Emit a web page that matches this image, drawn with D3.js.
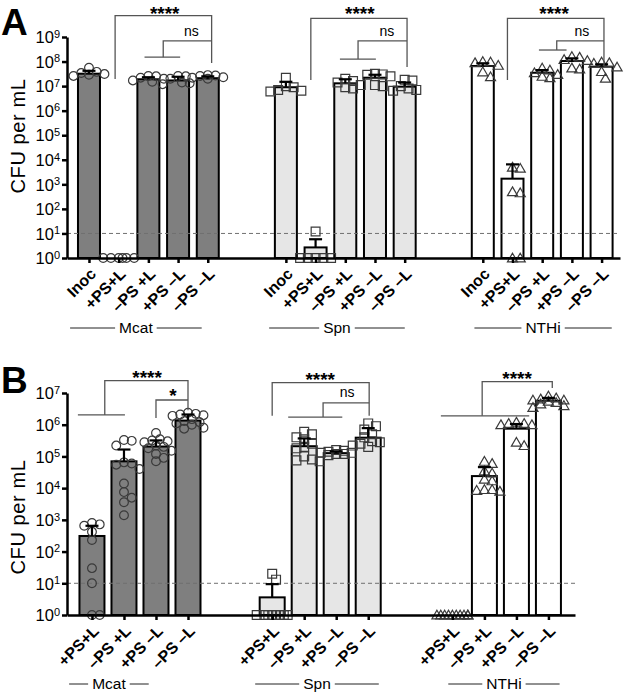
<!DOCTYPE html>
<html><head><meta charset="utf-8">
<script src="https://cdn.jsdelivr.net/npm/d3@7"></script>
<style>
body{margin:0;background:#fff}
svg{display:block}
text{font-family:"Liberation Sans",Arial,Helvetica,sans-serif;fill:#000}
</style>
</head><body>
<svg id="c" width="625" height="694"></svg>
<script>
// ================= DATA =================
const groups = ["Mcat", "Spn", "NTHi"];
const conditionsA = ["Inoc", "+PS+L", "–PS +L", "+PS –L", "–PS –L"];
const conditionsB = ["+PS+L", "–PS +L", "+PS –L", "–PS –L"];
const yTicksA = [1e0, 1e1, 1e2, 1e3, 1e4, 1e5, 1e6, 1e7, 1e8, 1e9];
const yTicksB = [1e0, 1e1, 1e2, 1e3, 1e4, 1e5, 1e6, 1e7];
const detectionLimit = 10;

// ---- Panel A : bar means, upper end of error bar (mean+SD), replicates ----
const meanA_Mcat = [3.2e7, 1, 1.9e7, 1.7e7, 2.1e7];
const errA_Mcat  = [4.2e7, 1, 2.3e7, 2.4e7, 2.5e7];
const ptsA_Mcat  = [
  [2.6e7, 2.9e7, 3.1e7, 3.4e7, 3.8e7, 5.6e7],
  [1, 1, 1, 1, 1, 1],
  [1.5e7, 1.7e7, 2.0e7, 2.2e7, 2.6e7, 2.5e7],
  [1.2e7, 1.3e7, 1.4e7, 2.6e7, 2.5e7, 2.0e7],
  [2.0e7, 2.3e7, 2.6e7, 2.7e7, 2.8e7, 2.2e7]
];
const meanA_Spn = [9.0e6, 2.7, 1.3e7, 2.2e7, 9.5e6];
const errA_Spn  = [1.5e7, 5.8, 1.9e7, 2.9e7, 1.4e7];
const ptsA_Spn  = [
  [2.2e7, 1.0e7, 9.0e6, 7.0e6, 6.5e6, 6.0e6],
  [12, 1, 1, 1, 1, 1],
  [2.0e7, 1.6e7, 1.4e7, 1.1e7, 9.0e6, 8.0e6],
  [3.2e7, 3.0e7, 2.9e7, 1.1e7, 1.0e7, 2.5e7],
  [1.8e7, 1.7e7, 1.0e7, 8.0e6, 7.0e6, 6.5e6]
];
const meanA_NTHi = [6.6e7, 1.7e3, 3.5e7, 1.05e8, 6.2e7];
const errA_NTHi  = [8.5e7, 6.5e3, 4.5e7, 1.35e8, 7.7e7];
const ptsA_NTHi  = [
  [1.0e8, 9.5e7, 9.0e7, 7.0e7, 3.8e7, 2.4e7],
  [5.0e3, 4.5e3, 5.0e2, 4.5e2, 1, 1],
  [5.4e7, 4.5e7, 3.5e7, 3.0e7, 2.5e7, 2.2e7],
  [1.6e8, 1.5e8, 1.2e8, 1.1e8, 5.5e7, 5.0e7],
  [9.5e7, 9.0e7, 8.5e7, 6.0e7, 3.9e7, 2.1e7]
];

// ---- Panel B ----
const meanB_Mcat = [310, 7.0e4, 2.05e5, 1.35e6];
const errB_Mcat  = [650, 1.65e5, 3.2e5, 2.1e6];
const ptsB_Mcat  = [
  [800, 720, 650, 420, 230, 30, 10, 1, 1],
  [3.3e5, 3.1e5, 2.2e5, 6.0e4, 5.5e4, 4.0e4, 6.5e4, 1.4e4, 7.5e3, 5.0e3, 3.6e3, 1.4e3],
  [5.5e5, 3.5e5, 3.2e5, 3.0e5, 2.8e5, 2.2e5, 2.0e5, 1.8e5, 1.5e5, 1.2e5, 9.0e4, 7.0e4],
  [2.4e6, 2.2e6, 2.1e6, 2.0e6, 1.9e6, 1.5e6, 1.3e6, 1.2e6, 1.1e6, 1.0e6, 8.0e5, 7.5e5]
];
const meanB_Spn = [3.6, 2.1e5, 1.27e5, 3.9e5];
const errB_Spn  = [9.4, 3.7e5, 1.45e5, 7.8e5];
const ptsB_Spn  = [
  [20, 13, 1, 1, 1, 1, 1, 1, 1, 1],
  [6.0e5, 5.0e5, 4.0e5, 3.5e5, 2.5e5, 2.0e5, 1.8e5, 1.0e5, 8.0e4, 7.5e4, 7.0e4],
  [1.6e5, 1.5e5, 1.4e5, 1.3e5, 1.2e5, 1.1e5, 1.2e5, 1.3e5],
  [1.1e6, 9.0e5, 7.0e5, 5.0e5, 3.0e5, 2.5e5, 2.2e5, 2.0e5, 2.8e5, 4.0e5]
];
const meanB_NTHi = [1, 2.4e4, 7.5e5, 5.7e6];
const errB_NTHi  = [1, 4.6e4, 1.05e6, 7.0e6];
const ptsB_NTHi  = [
  [1, 1, 1, 1, 1, 1, 1, 1, 1, 1],
  [7.0e4, 6.0e4, 3.5e4, 3.0e4, 1.9e4, 1.7e4, 9.0e3, 8.5e3, 8.0e3, 9.0e3],
  [1.2e6, 1.1e6, 1.0e6, 1.0e6, 1.1e6, 2.8e5, 2.2e5],
  [8.0e6, 7.0e6, 6.5e6, 6.0e6, 5.5e6, 5.0e6, 4.5e6, 4.0e6, 3.5e6, 6.0e6]
];

// ---- significance brackets: polylines as [slot within group, log10 CFU] ----
const bracketsA_Mcat = [
  [[0.88, 7.29], [0.88, 9.87], [4.13, 9.87], [4.13, 7.94]],
  [[2.5, 8.18], [2.5, 8.84], [4.13, 8.84]],
  [[1.87, 8.18], [3.07, 8.18]]
];
const bracketsA_Spn = [
  [[0.84, 7.25], [0.84, 9.76], [4.08, 9.76], [4.08, 7.78]],
  [[2.43, 8.10], [2.43, 8.84], [4.08, 8.84]],
  [[1.82, 8.10], [3.03, 8.10]]
];
const bracketsA_NTHi = [
  [[0.83, 7.25], [0.83, 9.76], [4.08, 9.76], [4.08, 7.83]],
  [[2.49, 8.47], [2.49, 8.84], [4.08, 8.84]],
  [[1.89, 8.47], [2.82, 8.47]]
];
const starsA = [["****", "ns"], ["****", "ns"], ["****", "ns"]];
const starPosA = [[[2.55, 9.93], [3.45, 9.06]], [[2.49, 9.93], [3.4, 9.06]], [[2.4, 9.93], [3.34, 9.06]]];

const bracketsB_Mcat = [
  [[0.4, 6.31], [0.4, 7.39], [3.0, 7.39], [3.0, 6.46]],
  [[-0.44, 6.31], [1.03, 6.31]],
  [[2.0, 6.21], [2.0, 6.78], [3.0, 6.78]]
];
const bracketsB_Spn = [
  [[0.0, 6.28], [0.0, 7.33], [3.03, 7.33], [3.03, 6.28]],
  [[1.59, 6.24], [1.59, 6.69], [3.03, 6.69]],
  [[0.5, 6.24], [2.19, 6.24]]
];
const bracketsB_NTHi = [
  [[0.93, 6.28], [0.93, 7.36], [3.12, 7.36], [3.12, 7.16]],
  [[-0.36, 6.28], [2.4, 6.28]]
];
const starsB = [["****", "*"], ["****", "ns"], ["****"]];
const starPosB = [[[1.72, 7.47], [2.53, 6.9]], [[1.5, 7.42], [2.34, 6.87]], [[2.02, 7.44]]];

// ================= DRAWING =================
const svg = d3.select("#c");
const fills = ["#7f7f7f", "#e6e6e6", "#ffffff"];
const shapes = [d3.symbolCircle, d3.symbolSquare, d3.symbolTriangle];
const shapeSize = [60, 78, 44];

function swarm(ys, r, halfW) {
  const items = ys.map((y, i) => ({ i, y })).sort((a, b) => a.y - b.y);
  const placed = [], offs = new Array(ys.length).fill(0);
  const step = r * 0.9, minD = 2 * r * 0.8;
  for (const it of items) {
    let best = 0, bestCost = Infinity;
    const kmax = Math.floor(halfW / step) * 2;
    for (let k = 0; k <= kmax; k++) {
      const cand = (k % 2 ? 1 : -1) * Math.ceil(k / 2) * step;
      let ov = 0;
      for (const p of placed) {
        const d = Math.hypot(cand - p.x, it.y - p.y);
        if (d < minD) ov += minD - d;
      }
      if (ov === 0) { best = cand; bestCost = 0; break; }
      if (ov < bestCost - 1e-9) { bestCost = ov; best = cand; }
    }
    placed.push({ x: best, y: it.y });
    offs[it.i] = best;
  }
  return offs;
}

function drawPanel(cfg) {
  const g0 = svg.append("g");
  const n = cfg.conds.length;
  const x = d3.scaleLinear().domain(cfg.slotDomain).range(cfg.xRange);
  const y = d3.scaleLog().domain([1, cfg.yTicks[cfg.yTicks.length - 1]]).range(cfg.yRange);
  const base = y(1);
  const gStart = gi => gi * (n + cfg.gap);

  // bars
  cfg.means.forEach((means, gi) => {
    means.forEach((m, ci) => {
      if (m <= 1) return;
      const cx = x(gStart(gi) + ci);
      g0.append("rect")
        .attr("x", cx - cfg.barW / 2).attr("y", y(m))
        .attr("width", cfg.barW).attr("height", base - y(m))
        .attr("fill", fills[gi]).attr("stroke", "#000").attr("stroke-width", 2);
    });
  });

  // detection limit
  g0.append("line")
    .attr("x1", cfg.xRange[0]).attr("x2", cfg.xRange[1])
    .attr("y1", y(detectionLimit)).attr("y2", y(detectionLimit))
    .attr("stroke", "#707070").attr("stroke-width", 1).attr("stroke-dasharray", "4,3");

  // points
  cfg.pts.forEach((groupPts, gi) => {
    groupPts.forEach((vals, ci) => {
      const cx = x(gStart(gi) + ci);
      const ys = vals.map(v => y(v));
      const offs = swarm(ys, 4.3, cfg.barW * 0.72);
      const sym = d3.symbol().type(shapes[gi]).size(shapeSize[gi]);
      vals.forEach((v, k) => {
        g0.append("path").attr("d", sym())
          .attr("transform", `translate(${cx + offs[k]},${ys[k] + (gi === 2 ? 1 : 0)})`)
          .attr("fill", "none").attr("stroke", "#3a3a3a").attr("stroke-width", 1.2);
      });
    });
  });

  // error bars (upper)
  cfg.means.forEach((means, gi) => {
    means.forEach((m, ci) => {
      const e = cfg.errs[gi][ci];
      if (e <= m) return;
      const cx = x(gStart(gi) + ci);
      g0.append("line").attr("x1", cx).attr("x2", cx).attr("y1", y(m)).attr("y2", y(e))
        .attr("stroke", "#000").attr("stroke-width", 2.2);
      g0.append("line").attr("x1", cx - 6.5).attr("x2", cx + 6.5).attr("y1", y(e)).attr("y2", y(e))
        .attr("stroke", "#000").attr("stroke-width", 2.2);
    });
  });

  // y axis
  const ya = g0.append("g").attr("transform", `translate(${cfg.xRange[0]},0)`)
    .call(d3.axisLeft(y).tickValues(cfg.yTicks).tickSize(5).tickSizeOuter(0).tickFormat(""));
  ya.selectAll("path,line").attr("stroke", "#000").attr("stroke-width", 2.5);
  cfg.yTicks.forEach(t => {
    const tx = g0.append("text").attr("x", cfg.xRange[0] - 7).attr("y", y(t)).attr("dy", "0.38em")
      .attr("text-anchor", "end").style("font-size", "16.5px");
    tx.append("tspan").text("10");
    tx.append("tspan").attr("dy", "-0.5em").style("font-size", "11px").text(Math.round(Math.log10(t)));
  });

  // x axis
  const slots = [];
  groups.forEach((_, gi) => cfg.conds.forEach((_, ci) => slots.push(gStart(gi) + ci)));
  const xa = g0.append("g").attr("transform", `translate(0,${base})`)
    .call(d3.axisBottom(x).tickValues(slots).tickSize(5).tickSizeOuter(0).tickFormat(""));
  xa.selectAll("path,line").attr("stroke", "#000").attr("stroke-width", 2.5);
  groups.forEach((gname, gi) => {
    cfg.conds.forEach((c, ci) => {
      const cx = x(gStart(gi) + ci);
      g0.append("text").text(c)
        .attr("transform", `translate(${cx + 4},${base + 13}) rotate(-45)`)
        .attr("text-anchor", "end").attr("dy", "0.35em")
        .style("font-size", "16px").style("font-weight", "bold");
    });
    // group label with side rules
    const lc = x(gStart(gi) + cfg.groupLabelPos[gi]);
    const ly = cfg.groupLabelY;
    const t = g0.append("text").text(gname).attr("x", lc).attr("y", ly + 5)
      .attr("text-anchor", "middle").style("font-size", "15.5px");
    const tw = t.node().getComputedTextLength();
    const L = cfg.groupLineLen[gi];
    [[lc - tw / 2 - 4 - L, lc - tw / 2 - 4], [lc + tw / 2 + 4, lc + tw / 2 + 4 + L]].forEach(([a, b]) => {
      g0.append("line").attr("x1", a).attr("x2", b).attr("y1", ly).attr("y2", ly)
        .attr("stroke", "#222").attr("stroke-width", 1);
    });
  });

  // brackets
  const line = d3.line();
  cfg.brackets.forEach((blist, gi) => {
    blist.forEach(poly => {
      g0.append("path")
        .attr("d", line(poly.map(([s, l]) => [x(gStart(gi) + s), y(Math.pow(10, l))])))
        .attr("fill", "none").attr("stroke", "#555").attr("stroke-width", 1.3);
    });
    cfg.stars[gi].forEach((lab, k) => {
      const [s, l] = cfg.starPos[gi][k];
      const isNs = lab === "ns";
      g0.append("text").text(lab)
        .attr("x", x(gStart(gi) + s)).attr("y", y(Math.pow(10, l)) + (isNs ? 0 : 6))
        .attr("text-anchor", "middle")
        .style("font-size", isNs ? "14px" : "19px")
        .style("font-weight", isNs ? "normal" : "bold");
    });
  });

  // axis title and panel letter
  g0.append("text").text("CFU per mL")
    .attr("transform", `translate(25,${cfg.titleY}) rotate(-90)`)
    .attr("text-anchor", "middle").style("font-size", "20px").style("letter-spacing", "0.6px");
  g0.append("text").text(cfg.letter).attr("x", 1).attr("y", cfg.letterY)
    .style("font-size", "37px").style("font-weight", "bold");
}

drawPanel({
  conds: conditionsA,
  means: [meanA_Mcat, meanA_Spn, meanA_NTHi],
  errs: [errA_Mcat, errA_Spn, errA_NTHi],
  pts: [ptsA_Mcat, ptsA_Spn, ptsA_NTHi],
  brackets: [bracketsA_Mcat, bracketsA_Spn, bracketsA_NTHi],
  stars: starsA, starPos: starPosA,
  yTicks: yTicksA, yRange: [258, 37],
  slotDomain: [-0.74, 17.88], xRange: [67, 620],
  gap: 1.63, barW: 22,
  groupLabelY: 328, groupLabelPos: [1.58, 1.72, 2.03], groupLineLen: [45, 50, 47],
  titleY: 136, letter: "A", letterY: 35
});
drawPanel({
  conds: conditionsB,
  means: [meanB_Mcat, meanB_Spn, meanB_NTHi],
  errs: [errB_Mcat, errB_Spn, errB_NTHi],
  pts: [ptsB_Mcat, ptsB_Spn, ptsB_NTHi],
  brackets: [bracketsB_Mcat, bracketsB_Spn, bracketsB_NTHi],
  stars: starsB, starPos: starPosB,
  yTicks: yTicksB, yRange: [615, 393],
  slotDomain: [-0.78, 15.09], xRange: [67, 575],
  gap: 1.63, barW: 25,
  groupLabelY: 684, groupLabelPos: [0.53, 1.4, 1.61], groupLineLen: [19, 44, 34],
  titleY: 517, letter: "B", letterY: 393
});
</script>
</body></html>
